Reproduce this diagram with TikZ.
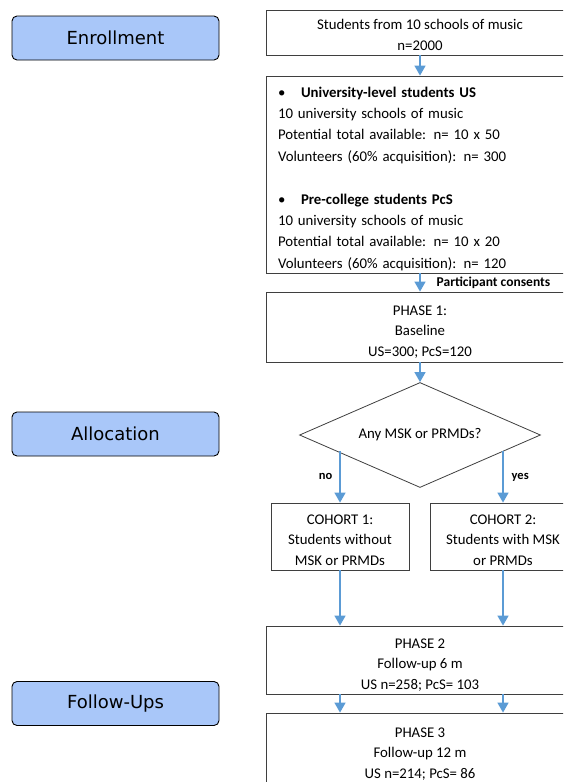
\documentclass[tikz,border=0pt]{standalone}
\usepackage{fontspec}
\setmainfont{Carlito}
\newfontfamily\stagefont{DejaVu Sans}
\usepackage{xcolor}
\usetikzlibrary{shapes.geometric, arrows.meta, positioning}

\definecolor{stageblue}{HTML}{A9C7F9}
\definecolor{flowblue}{HTML}{5B9BD5}
\definecolor{boxline}{HTML}{3F3F3F}

\begin{document}
\begin{tikzpicture}[
    x=1pt, y=-1pt,
    every node/.style={align=center, inner sep=0pt},
    stage/.style={rectangle, draw=black, fill=stageblue, rounded corners=5pt, minimum width=207pt, minimum height=44pt, line width=0.9pt, font=\stagefont\fontsize{18}{21}\selectfont},
    flowbox/.style={rectangle, draw=boxline, fill=white, minimum width=308pt, line width=0.8pt, text height=58pt, text depth=0pt, font=\fontsize{14.8}{20.5}\selectfont},
    cohort/.style={rectangle, draw=boxline, fill=white, minimum height=67pt, line width=0.8pt, text height=57pt, text depth=0pt, font=\fontsize{14.8}{20.5}\selectfont},
    decision/.style={diamond, draw=boxline, fill=white, shape aspect=2.3, minimum width=241pt, minimum height=105pt, line width=0.8pt, font=\fontsize{14.8}{20}\selectfont},
    arrow/.style={-{Triangle[length=10pt, width=11pt]}, line width=1.4pt, draw=flowblue},
    tag/.style={font=\bfseries\fontsize{12.5}{14}\selectfont}
]
\useasboundingbox (0,0) rectangle (563,782);
\clip (0,0) rectangle (563,782);

% Stage labels
\node (enroll) [stage] at (115.5,38) {Enrollment};
\node (alloc) [stage] at (115.5,434) {Allocation};
\node (followups) [stage] at (115.5,703.5) {Follow-Ups};

% Enrollment
\node (source) [flowbox, minimum height=45pt, text height=35pt] at (420,32.5) {Students from 10 schools of music\\n=2000};
\node (pool) [flowbox, minimum height=197pt, text height=18.7pt, text depth=, text width=284pt, align=left, font=\fontsize{14.8}{21.4}\selectfont] at (420,174.5) {%
\makebox[23pt][l]{\textbullet}\textbf{University-level students US}\\
10 university schools of music\\
Potential total available: n= 10 x 50\\
Volunteers (60\% acquisition): n= 300\\[21.4pt]
\makebox[23pt][l]{\textbullet}\textbf{Pre-college students PcS}\\
10 university schools of music\\
Potential total available: n= 10 x 20\\
Volunteers (60\% acquisition): n= 120};
\node (phase1) [flowbox, minimum height=70pt] at (420,327) {PHASE 1:\\Baseline\\US=300; PcS=120};

% Allocation
\node (decide) [decision] at (420,435) {Any MSK or PRMDs?};
\node (cohort1) [cohort, minimum width=138pt] at (340,536.5) {COHORT 1:\\Students without\\MSK or PRMDs};
\node (cohort2) [cohort, minimum width=146pt] at (503,536.5) {COHORT 2:\\Students with MSK\\or PRMDs};

% Follow-ups
\node (phase2) [flowbox, minimum height=68pt] at (420,660) {PHASE 2\\Follow-up 6 m\\US n=258; PcS= 103};
\node (phase3) [flowbox, minimum height=70pt, text height=60pt] at (420,748) {PHASE 3\\Follow-up 12 m\\US n=214; PcS= 86};

% Connections
\draw [arrow] (source) -- (pool);
\draw [arrow] (pool) -- node [right=16pt, font=\bfseries\fontsize{13.5}{14}\selectfont] {Participant consents} (phase1);
\draw [arrow] (phase1) -- (decide);
\draw [arrow] (decide.191 -| cohort1.north) -- node [left=7pt, tag] {no} (cohort1);
\draw [arrow] (decide.349 -| cohort2.north) -- node [right=8pt, tag] {yes} (cohort2);
\draw [arrow] (cohort1) -- (cohort1 |- phase2.north);
\draw [arrow] (cohort2) -- (cohort2 |- phase2.north);
\draw [arrow] (phase2.south -| cohort1) -- (phase3.north -| cohort1);
\draw [arrow] (phase2.south -| cohort2) -- (phase3.north -| cohort2);

\end{tikzpicture}
\end{document}
